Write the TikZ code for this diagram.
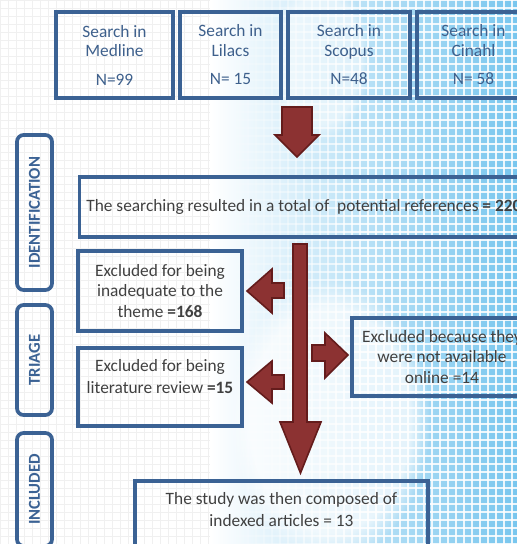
\documentclass[tikz,border=0pt]{standalone}
\usepackage{fontspec}
\setmainfont{Carlito}
\usetikzlibrary{fadings}
\definecolor{boxblue}{RGB}{59,98,148}
\definecolor{txtblue}{RGB}{62,96,140}
\definecolor{txtgray}{RGB}{64,64,64}
\definecolor{arrowred}{RGB}{140,50,50}
\definecolor{arrowdark}{RGB}{100,28,28}
\definecolor{bgblue}{RGB}{120,198,238}
\definecolor{bgmid}{RGB}{185,225,246}
\tikzset{
  box/.style={draw=boxblue, line width=2.6pt, inner sep=2pt, align=center, text=txtgray,
    font=\fontsize{13}{15.5}\selectfont},
  srcbox/.style={box, text=txtblue, font=\fontsize{13}{14.5}\selectfont, minimum height=64.5pt},
  txt/.style={align=center, text=txtgray, inner sep=0pt, font=\fontsize{13}{16.5}\selectfont},
  side/.style={draw=boxblue, line width=2.8pt, rounded corners=5pt, rotate=90, text=boxblue,
    inner sep=0pt, minimum height=26.25pt, font=\bfseries\fontsize{12.5}{15}\selectfont},
  blockarrow/.style={fill=arrowred, draw=arrowdark, line width=1.2pt, line join=miter},
  faintgrid/.style={black!6, line width=0.5pt},
  whitegrid/.style={white, line width=0.9pt}
}
\begin{document}
\begin{tikzpicture}[x=0.75pt, y=-0.75pt]
\useasboundingbox (0,0) rectangle (517,544);
\clip (0,0) rectangle (517,544);
% background
\fill[white] (0,0) rectangle (517,544);
\foreach \g in {0,8,...,544} {
  \draw[faintgrid] (\g,0) -- (\g,544);
  \draw[faintgrid] (0,\g) -- (517,\g);
}
\shade[left color=white, right color=bgblue, middle color=bgmid] (210,0) rectangle (517,544);
\fill[white, path fading=circle with fuzzy edge 20 percent, opacity=0.7] (330,420) ellipse (100 and 140);
\fill[white, path fading=circle with fuzzy edge 20 percent, opacity=0.5] (320,60) ellipse (50 and 80);
\foreach \g in {232,240,...,520} {
  \pgfmathsetmacro{\op}{min(0.85,max(0,(\g-225)/170))}
  \draw[whitegrid, opacity=\op] (\g,0) -- (\g,544);
  \foreach \h in {0,8,...,544} {
    \draw[whitegrid, opacity=\op] (\g-8,\h) -- (\g,\h);
  }
}
% source boxes
\node[srcbox, minimum width=87.75pt] (med) at (114.5,55) {Search in\\Medline\\[7pt]N=99};
\node[srcbox, minimum width=75.75pt] (lil) at (230.5,55) {Search in\\Lilacs\\[7pt]N= 15};
\node[srcbox, minimum width=91.5pt] (sco) at (349,55) {Search in\\Scopus\\[7pt]N=48};
\node[srcbox, minimum width=84.75pt] (cin) at (473.5,55) {Search in\\Cinahl\\[7pt]N= 58};
% side labels
\node[side, minimum width=116.25pt] (sid) at (34.5,212.5) {IDENTIFICATION};
\node[side, minimum width=82.5pt] (str) at (34.5,360) {TRIAGE};
\node[side, minimum width=84.75pt] (sin) at (34.5,489.5) {INCLUDED};
% identification box
\node[box, anchor=west, minimum height=45pt, inner xsep=5pt] (tot) at (78,207)
  {The searching resulted in a total of\ \ potential references \textbf{= 220}};
% exclusion boxes
\node[box, minimum width=123pt, minimum height=60pt] (ex1) at (160,291)
  {Excluded for being\\inadequate to the\\theme \textbf{=168}};
\node[box, minimum width=123pt, minimum height=58.5pt] (ex2) at (160,387) {};
\node[txt] (ex2t) at (160,377) {Excluded for being\\literature review \textbf{=15}};
\node[box, minimum width=135pt, minimum height=58.5pt] (ex3) at (442,357)
  {Excluded because they\\were not available\\online =14};
% final box
\node[box, minimum width=219.75pt, minimum height=67.5pt] (fin) at (281.5,526) {};
\node[txt] (fint) at (281.5,509.5) {The study was then composed of\\indexed articles = 13};
% block arrows
\filldraw[blockarrow] (282,107) -- (312,107) -- (312,135) -- (319,135) -- (297,157)
  -- (275,135) -- (282,135) -- cycle;
\filldraw[blockarrow] (293,244) -- (307,244) -- (307,422) -- (321,422) -- (300.5,473)
  -- (280,422) -- (293,422) -- cycle;
\filldraw[blockarrow] (284,283) -- (284,298) -- (272,298) -- (272,313) -- (247,291)
  -- (272,269) -- (272,283) -- cycle;
\filldraw[blockarrow] (284,375) -- (284,389) -- (272,389) -- (272,403) -- (247,382)
  -- (272,361) -- (272,375) -- cycle;
\filldraw[blockarrow] (312,345) -- (325,345) -- (325,333) -- (348,355) -- (325,378)
  -- (325,361) -- (312,361) -- cycle;
\end{tikzpicture}
\end{document}
